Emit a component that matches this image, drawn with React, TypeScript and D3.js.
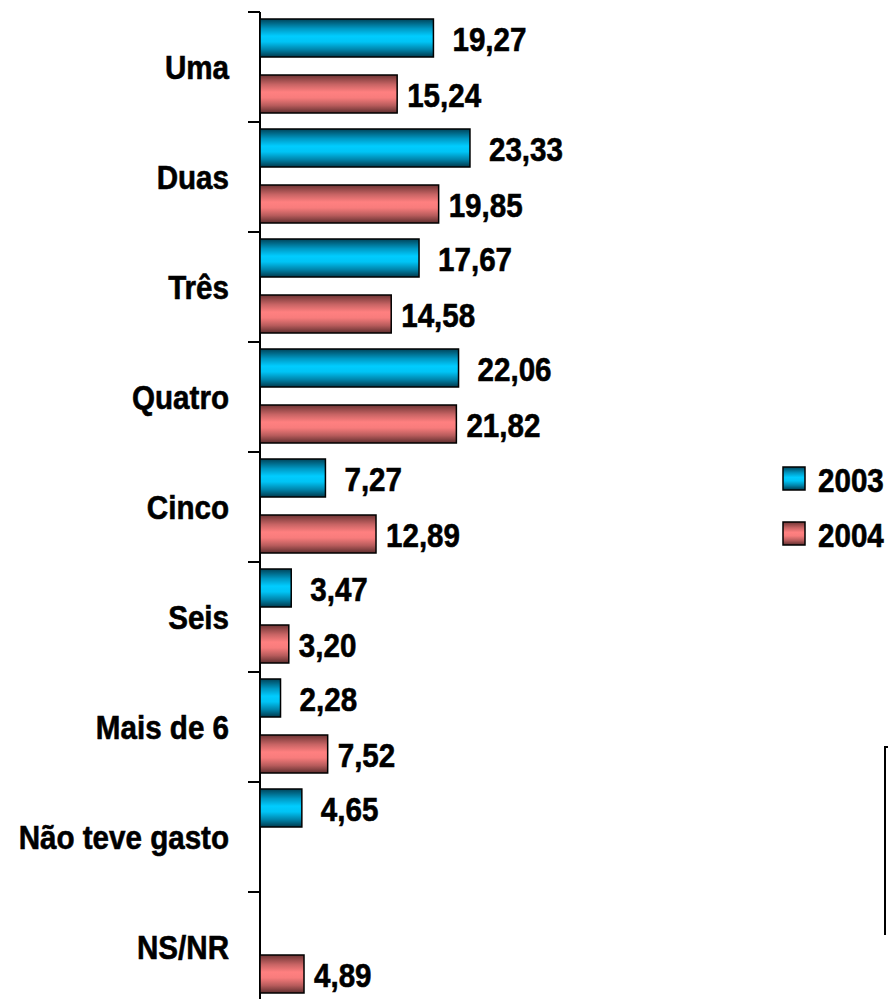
import React from 'react';
import * as d3 from 'd3';

const categories = ['Uma', 'Duas', 'Três', 'Quatro', 'Cinco', 'Seis', 'Mais de 6', 'Não teve gasto', 'NS/NR'];
const values2003: (number | null)[] = [19.27, 23.33, 17.67, 22.06, 7.27, 3.47, 2.28, 4.65, null];
const values2004: (number | null)[] = [15.24, 19.85, 14.58, 21.82, 12.89, 3.2, 7.52, null, 4.89];
const seriesNames = ['2003', '2004'];

const W = 888;
const H = 999;
const FONT = '"Liberation Sans", Arial, sans-serif';

const fmt = (v: number) => v.toFixed(2).replace('.', ',');

const App: React.FC = () => {
  const x = d3.scaleLinear().domain([0, 25]).range([260, 485]);
  const y = d3.scaleBand().domain(categories).range([12, 1002]);
  // two bars per category, 38px tall with an 18px gap
  const sub = d3.scaleBand()
    .domain(seriesNames)
    .range([7, 101])
    .paddingInner(18 / 56)
    .paddingOuter(0);

  const series = [
    { name: '2003', values: values2003, fill: 'url(#gBlue)', gap: 19 },
    { name: '2004', values: values2004, fill: 'url(#gRed)', gap: 10 },
  ];

  const ticks = categories.map(c => y(c)!);

  const label = (tx: number, ty: number, text: string, anchor: string, key?: string) => (
    <text
      key={key}
      transform={`translate(${tx},${ty}) scale(0.87,1)`}
      textAnchor={anchor}
      fontFamily={FONT}
      fontWeight="bold"
      fontSize={34}
      fill="#000"
      stroke="#000"
      strokeWidth={0.6}
    >
      {text}
    </text>
  );

  return (
    <svg width={W} height={H} style={{ position: 'absolute', left: 0, top: 0 }}>
      <defs>
        <linearGradient id="gBlue" x1="0" y1="0" x2="0" y2="1">
          <stop offset="0%" stopColor="#00445a" />
          <stop offset="25%" stopColor="#0097c2" />
          <stop offset="45%" stopColor="#00ccff" />
          <stop offset="60%" stopColor="#00c4f5" />
          <stop offset="80%" stopColor="#0086ad" />
          <stop offset="100%" stopColor="#003a4d" />
        </linearGradient>
        <linearGradient id="gRed" x1="0" y1="0" x2="0" y2="1">
          <stop offset="0%" stopColor="#6e3434" />
          <stop offset="25%" stopColor="#c86464" />
          <stop offset="45%" stopColor="#ff8080" />
          <stop offset="60%" stopColor="#f87c7c" />
          <stop offset="80%" stopColor="#b85c5c" />
          <stop offset="100%" stopColor="#5e2e2e" />
        </linearGradient>
      </defs>

      {/* axis */}
      <line x1={260} x2={260} y1={12} y2={H} stroke="#000" strokeWidth={2} />
      {ticks.map((t, i) => (
        <line key={i} x1={248} x2={260} y1={t} y2={t} stroke="#000" strokeWidth={2} />
      ))}

      {/* category labels */}
      {categories.map(c =>
        label(229, y(c)! + y.bandwidth() / 2 + 12, c, 'end', 'c' + c)
      )}

      {/* bars */}
      {series.map(s =>
        categories.map((c, i) => {
          const v = s.values[i];
          if (v == null) return null;
          const by = y(c)! + sub(s.name)!;
          const bh = sub.bandwidth();
          return (
            <g key={s.name + c}>
              <rect
                x={x(0)}
                y={by}
                width={x(v) - x(0)}
                height={bh}
                fill={s.fill}
                stroke="#000"
                strokeWidth={1.5}
              />
              {label(x(v) + s.gap, by + bh / 2 + 13, fmt(v), 'start')}
            </g>
          );
        })
      )}

      {/* legend */}
      {series.map((s, i) => (
        <g key={'lg' + s.name}>
          <rect x={783} y={467 + i * 55} width={22} height={23} fill={s.fill} stroke="#000" strokeWidth={1.5} />
          {label(818, 492 + i * 55, s.name, 'start')}
        </g>
      ))}

      {/* partial frame at bottom right */}
      <path d="M888,747 L885,747 L885,935" fill="none" stroke="#000" strokeWidth={2} />
    </svg>
  );
};

export default App;
